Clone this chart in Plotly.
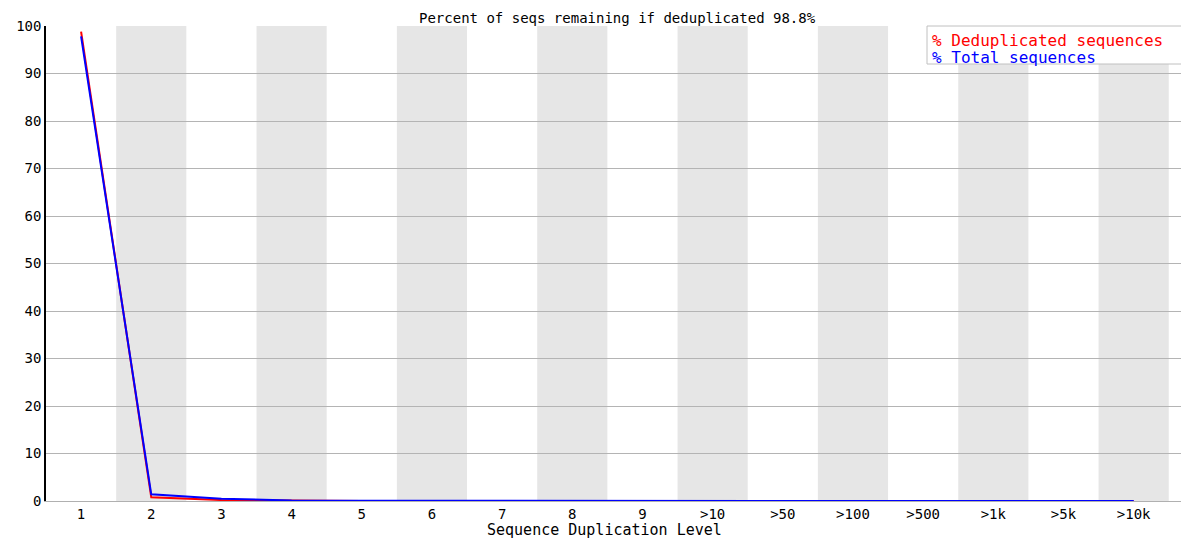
import plotly.graph_objects as go

categories = ["1", "2", "3", "4", "5", "6", "7", "8", "9", ">10", ">50", ">100", ">500", ">1k", ">5k", ">10k"]
dedup_pct = [98.8, 0.8, 0.2, 0.05, 0.02, 0.01, 0.01, 0.0, 0.0, 0.0, 0.0, 0.0, 0.0, 0.0, 0.0, 0.0]
total_pct = [97.8, 1.4, 0.5, 0.1, 0.05, 0.03, 0.02, 0.01, 0.01, 0.01, 0.0, 0.0, 0.0, 0.0, 0.0, 0.0]
series_names = ["% Deduplicated sequences", "% Total sequences"]
series_colors = ["#ff0000", "#0000ff"]
title_text = "Percent of seqs remaining if deduplicated 98.8%"
x_title = "Sequence Duplication Level"

FONT = "DejaVu Sans Mono"
OFF = 8  # page body margin offset
W, H = 1189 - OFF, 538 - OFF
ML, MR, MT, MB = 46 - OFF, 2, 26 - OFF, 37
PH = H - MT - MB
PW = W - ML - MR


def px_x(page_x):
    return (page_x - OFF - ML) / PW


def px_y(page_y):
    return 1 - (page_y - OFF - MT) / PH


fig = go.Figure()
for name, vals, col in zip(series_names, [dedup_pct, total_pct], series_colors):
    fig.add_trace(go.Scatter(x=categories, y=vals, mode="lines", name=name,
                             line=dict(color=col, width=2), showlegend=False))

shapes = []
for i in range(1, len(categories), 2):
    shapes.append(dict(type="rect", xref="x", yref="y", x0=i - 0.5, x1=i + 0.5, y0=0, y1=100,
                       fillcolor="#e6e6e6", line=dict(width=0), layer="below"))

# text-only legend box as in the reference
shapes.append(dict(type="rect", xref="paper", yref="paper",
                   x0=px_x(927), x1=px_x(1187), y0=px_y(64), y1=px_y(26),
                   fillcolor="white", line=dict(color="#c0c0c0", width=1), layer="above"))
annotations = []
for k, (name, col) in enumerate(zip(series_names, series_colors)):
    annotations.append(dict(text=name, xref="paper", yref="paper", x=px_x(930),
                            y=px_y(40 + 18 * k), xanchor="left", yanchor="middle",
                            showarrow=False, font=dict(family=FONT, size=16, color=col)))
annotations.append(dict(text=x_title, xref="paper", yref="paper", x=px_x(604),
                        y=px_y(530), xanchor="center", yanchor="middle",
                        showarrow=False, font=dict(family=FONT, size=15, color="#000000")))
annotations.append(dict(text=title_text, xref="paper", yref="paper", x=px_x(617),
                        y=px_y(8), xanchor="center", yanchor="top",
                        showarrow=False, font=dict(family=FONT, size=14, color="#000000")))

fig.update_layout(
    width=W, height=H,
    margin=dict(l=ML, r=MR, t=MT, b=MB, autoexpand=False),
    paper_bgcolor="white", plot_bgcolor="white",
    font=dict(family=FONT, size=14, color="#000000"),
    shapes=shapes,
    annotations=annotations,
    showlegend=False,
    xaxis=dict(type="category", range=[-0.5, 15.76], showgrid=False, zeroline=False, automargin=False,
               showline=True, linecolor="#b0b0b0", linewidth=1, ticks="",
               tickfont=dict(family=FONT, size=14)),
    yaxis=dict(range=[0, 100], tickvals=list(range(0, 101, 10)), showgrid=True, gridcolor="#b4b4b4",
               gridwidth=1, zeroline=False, showline=True, linecolor="#000000", linewidth=1.5,
               automargin=False, ticks="", tickfont=dict(family=FONT, size=14)),
)

fig.write_html("out.html")
